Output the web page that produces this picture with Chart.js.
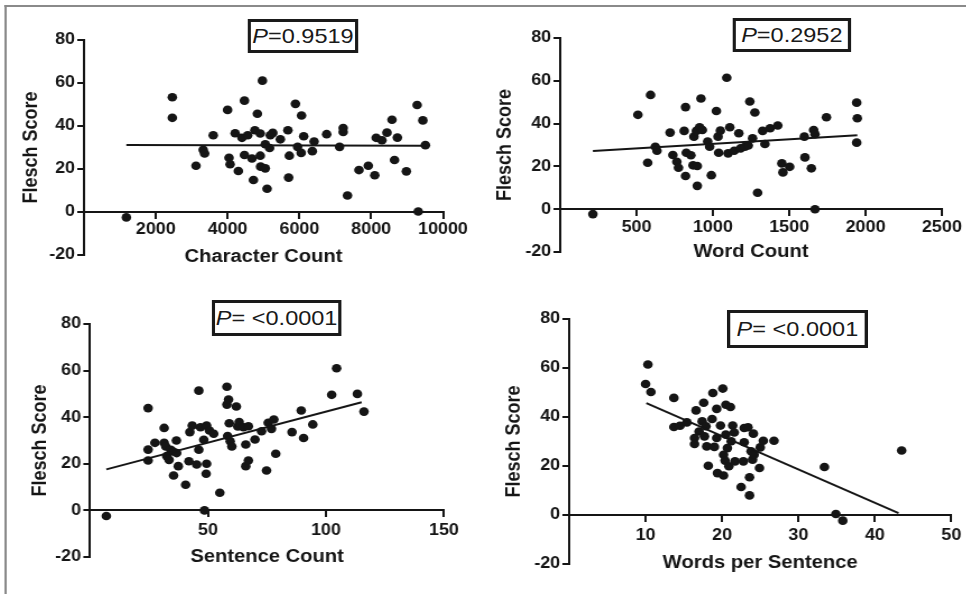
<!DOCTYPE html>
<html>
<head>
<meta charset="utf-8">
<script src="https://cdn.jsdelivr.net/npm/chart.js@4/dist/chart.umd.min.js"></script>
<style>
  html, body { margin: 0; padding: 0; background: #fff; }
  body { width: 966px; height: 594px; overflow: hidden; position: relative; }
  /* the source figure is stretched ~12% horizontally, so lay out narrow and stretch */
  #fig { position: absolute; left: 0; top: 0; width: 862.5px; height: 594px; transform: scaleX(1.12); transform-origin: 0 0; }
  .frame { position: absolute; left: 4px; top: 5px; right: 0; bottom: -4px; border-left: 2px solid #8a8a8a; border-top: 2px solid #8a8a8a; }
  .panel { position: absolute; }
  .pbox { position: absolute; box-sizing: border-box; border: 3px solid #1a1a1a; background: #fff;
          font: 21px "Liberation Sans", Arial, sans-serif; color: #1a1a1a;
          display: flex; align-items: center; justify-content: center; }
</style>
</head>
<body>
<div id="fig">
  <div class="frame"></div>
  <div class="panel" style="left:0px;top:0px;width:430px;height:280px"><canvas id="c1"></canvas></div>
  <div class="panel" style="left:431px;top:0px;width:431.5px;height:280px"><canvas id="c2"></canvas></div>
  <div class="panel" style="left:0px;top:290px;width:430px;height:304px"><canvas id="c3"></canvas></div>
  <div class="panel" style="left:431px;top:290px;width:431.5px;height:304px"><canvas id="c4"></canvas></div>
  <div class="pbox" style="left:221px;top:19px;width:99px;height:34px"><span><i>P</i>=0.9519</span></div>
  <div class="pbox" style="left:654px;top:18px;width:106px;height:34px"><span><i>P</i>=0.2952</span></div>
  <div class="pbox" style="left:189px;top:300px;width:116px;height:36px"><span><i>P</i>= &lt;0.0001</span></div>
  <div class="pbox" style="left:649px;top:310px;width:126px;height:38px"><span><i>P</i>= &lt;0.0001</span></div>
</div>
<script>
const INK = '#151515';

// Character count vs Flesch score
const charCount = [1180, 2460, 2460, 3120, 3320, 3360, 3600, 4000, 4040, 4070, 4300, 4210, 4470, 4400, 4470, 4560, 4680, 4720, 4760, 4830,
  4910, 4910, 4920, 4970, 5050, 5050, 5100, 5170, 5190, 5260, 5470, 5680, 5700, 5720, 5890, 5950, 6050, 6060, 6120, 6360,
  6410, 6760, 7120, 7220, 7220, 7340, 7660, 7920, 8100, 8140, 8300, 8440, 8580, 8650, 8730, 8980, 9280, 9310, 9440, 9510];
const charScore = [-2.5, 53.4, 43.8, 21.5, 28.9, 27.2, 35.7, 47.5, 25.2, 22.2, 19.1, 36.6, 51.8, 34.5, 26.5, 35.7, 24.9, 14.9, 38, 45.7,
  26.2, 36.5, 21.1, 61.1, 31.5, 20.3, 10.8, 29.8, 35.7, 36.8, 33.8, 38, 16, 26.2, 50.3, 30.3, 27.5, 44.9, 35.2, 28.3,
  32.8, 36.2, 30.3, 37.2, 39.1, 7.7, 19.5, 21.5, 17.1, 34.5, 33.4, 36.9, 42.9, 24.2, 34.6, 18.9, 49.8, 0.2, 42.6, 31.1];
const charFitX = [1180, 9510];
const charFitY = [31.2, 30.8];

// Word count
const wordCount = [214, 509, 573, 592, 623, 634, 720, 738, 764, 775, 812, 821, 821, 826, 856, 870, 876, 892, 898, 898,
  913, 922, 931, 966, 979, 990, 1023, 1034, 1038, 1049, 1091, 1100, 1111, 1140, 1170, 1181, 1210, 1232, 1242, 1260,
  1275, 1293, 1326, 1341, 1375, 1425, 1452, 1459, 1503, 1599, 1603, 1645, 1660, 1669, 1669, 1744, 1942, 1946, 1942];
const wordScore = [-2.3, 44.1, 21.7, 53.4, 29.2, 27.3, 35.8, 25.3, 22.2, 19.4, 36.6, 47.7, 15.5, 26.4, 25.2, 20.5, 33.9, 36.6, 20.2, 10.9,
  38.3, 51.7, 37, 31.6, 29.2, 15.9, 45.9, 33.9, 26.4, 36.7, 61.4, 26.1, 38.3, 27.3, 35.5, 28.4, 29.2, 29.8, 50.3, 33.1,
  45.2, 7.7, 36.6, 30.5, 37.8, 39.1, 21.4, 17.2, 19.8, 33.9, 24.2, 19.1, 37, 35, 0, 43, 49.8, 42.5, 31.1];
const wordFitX = [214, 1946];
const wordFitY = [27.2, 34.5];

// Sentence count
const sentenceCount = [6.9, 24.6, 24.6, 24.6, 27.5, 31.4, 31.4, 32.1, 32.5, 33.5, 34.2, 35.2, 35.4, 36.6, 36.7, 37.4, 40.5, 41.9, 42.3, 43.3,
  45.2, 46.1, 46.1, 46.8, 48.2, 48.5, 49.2, 49.4, 49.4, 50.6, 52.4, 55, 58, 58, 58.7, 58.3, 59, 59.4, 60.1, 62,
  62.6, 63.2, 65, 66, 66, 67.1, 67.1, 69.9, 72.7, 74.8, 75.5, 76.9, 77.9, 78.7, 85.6, 89.5, 90.5, 94.4, 102.4, 104.5,
  113.3, 116.1];
const sentenceScore = [-2.4, 43.9, 26.1, 21.4, 29, 35.4, 29, 27.4, 23.3, 21.7, 26, 25.3, 15, 30, 24.6, 19, 11, 21.1, 33.6, 36.4,
  19.7, 51.4, 26, 35.7, 30.3, 0, 15.7, 36.4, 20, 34.3, 32.9, 7.6, 53.1, 45.4, 47.6, 31.9, 37.4, 29.7, 27.4, 44.6,
  36, 37.9, 35.7, 28.3, 19, 21.4, 36.1, 30.4, 34, 17.1, 37.6, 35, 39, 24.3, 33.6, 42.9, 31.1, 36.9, 49.6, 61,
  50, 42.4];
const sentenceFitX = [6.9, 115.1];
const sentenceFitY = [17.6, 46.4];

// Words per sentence
const wpsValues = [10.3, 10.0, 10.7, 13.7, 13.7, 14.5, 15.4, 16.6, 17.6, 18.8, 20.1, 19.3, 20.5, 21.1, 17.4, 17.9, 18.7, 17, 16.4, 16.4,
  17.7, 18, 19, 19.3, 19.8, 20.5, 21.4, 21.6, 21.2, 20.7, 20.2, 20.4, 18.2, 19.4, 20.2, 20.9, 21.7, 22.9, 23.4, 22.9,
  22.8, 23.8, 24.1, 24, 25, 25.4, 26.8, 24.9, 23.6, 22.5, 23.6, 24.2, 33.4, 34.9, 35.8, 43.5];
const wpsScore = [61.4, 53.5, 50.2, 47.8, 35.9, 36.4, 37.8, 42.7, 45.8, 49.8, 51.6, 43.3, 45, 44.1, 38.2, 36.2, 39.2, 34.1, 31.4, 29,
  32.1, 28, 27.8, 31.4, 36.5, 32.8, 36.5, 33.7, 30.1, 27.3, 24.6, 22.2, 20.1, 17.1, 16.1, 19.9, 21.9, 35.5, 35.8, 29.7,
  21.9, 26, 33.2, 22.6, 27.6, 30.3, 30.3, 19.2, 15.4, 11.4, 8, 24.6, 19.6, 0.4, -2.3, 26.3];
const wpsFitX = [10.1, 43.1];
const wpsFitY = [45.7, 0.8];

const yTicks = { min: -20, max: 80, step: 20 };

Chart.defaults.font.family = '"Liberation Sans", Arial, Helvetica, sans-serif';
Chart.defaults.color = INK;

const tickFont = { size: 16, weight: 'bold' };
const titleFont = { size: 18, weight: 'bold' };

function makePanel(id, xs, ys, fitX, fitY, xMax, xStep, xTitle, g) {
  const points = xs.map((x, i) => ({ x: x, y: ys[i] }));
  const fit = fitX.map((x, i) => ({ x: x, y: fitY[i] }));

  new Chart(document.getElementById(id), {
    type: 'scatter',
    data: {
      datasets: [
        { type: 'line', data: fit, borderColor: INK, borderWidth: 2, pointRadius: 0, fill: false },
        { data: points, backgroundColor: INK, borderWidth: 0, pointRadius: 4.3, pointHoverRadius: 4.3 }
      ]
    },
    options: {
      responsive: true,
      maintainAspectRatio: false,
      animation: false,
      layout: { padding: { left: 0, top: g.padTop, right: g.padRight, bottom: g.padBottom } },
      plugins: { legend: { display: false }, tooltip: { enabled: false } },
      scales: {
        x: {
          type: 'linear',
          position: { y: 0 },
          min: 0,
          max: xMax,
          ticks: {
            stepSize: xStep,
            font: tickFont,
            color: INK,
            padding: g.xTickPad,
            maxRotation: 0,
            callback: (v) => v === 0 ? '' : String(v)
          },
          grid: { drawOnChartArea: false, drawTicks: true, tickLength: 6, color: INK, lineWidth: 2 },
          border: { color: INK, width: 2 },
          title: { display: true, text: xTitle, font: titleFont, color: INK, padding: 0 },
          afterFit: (scale) => { scale.height = g.xHeight; }
        },
        y: {
          type: 'linear',
          min: yTicks.min,
          max: yTicks.max,
          ticks: { stepSize: yTicks.step, font: tickFont, color: INK, padding: 2 },
          grid: { drawOnChartArea: false, drawTicks: true, tickLength: 6, color: INK, lineWidth: 2 },
          border: { color: INK, width: 2 },
          title: { display: true, text: 'Flesch Score', font: titleFont, color: INK, padding: { top: g.yTitlePad, bottom: 0 } },
          afterFit: (scale) => { scale.width = g.yWidth; }
        }
      }
    }
  });
}

makePanel('c1', charCount, charScore, charFitX, charFitY, 10000, 2000, 'Character Count',
  { padTop: 40, padRight: 34.5, padBottom: 25, yWidth: 75, yTitlePad: 17, xTickPad: 2.2, xHeight: 55.5 });
makePanel('c2', wordCount, wordScore, wordFitX, wordFitY, 2500, 500, 'Word Count',
  { padTop: 38, padRight: 22.5, padBottom: 28, yWidth: 69, yTitlePad: 9.5, xTickPad: 2.7, xHeight: 53.5 });
makePanel('c3', sentenceCount, sentenceScore, sentenceFitX, sentenceFitY, 150, 50, 'Sentence Count',
  { padTop: 34, padRight: 33.6, padBottom: 37, yWidth: 80.4, yTitlePad: 25.4, xTickPad: 4.7, xHeight: 57.5 });
makePanel('c4', wpsValues, wpsScore, wpsFitX, wpsFitY, 50, 10, 'Words per Sentence',
  { padTop: 29, padRight: 11.5, padBottom: 30, yWidth: 77, yTitlePad: 17.2, xTickPad: 5.2, xHeight: 59 });
</script>
</body>
</html>
